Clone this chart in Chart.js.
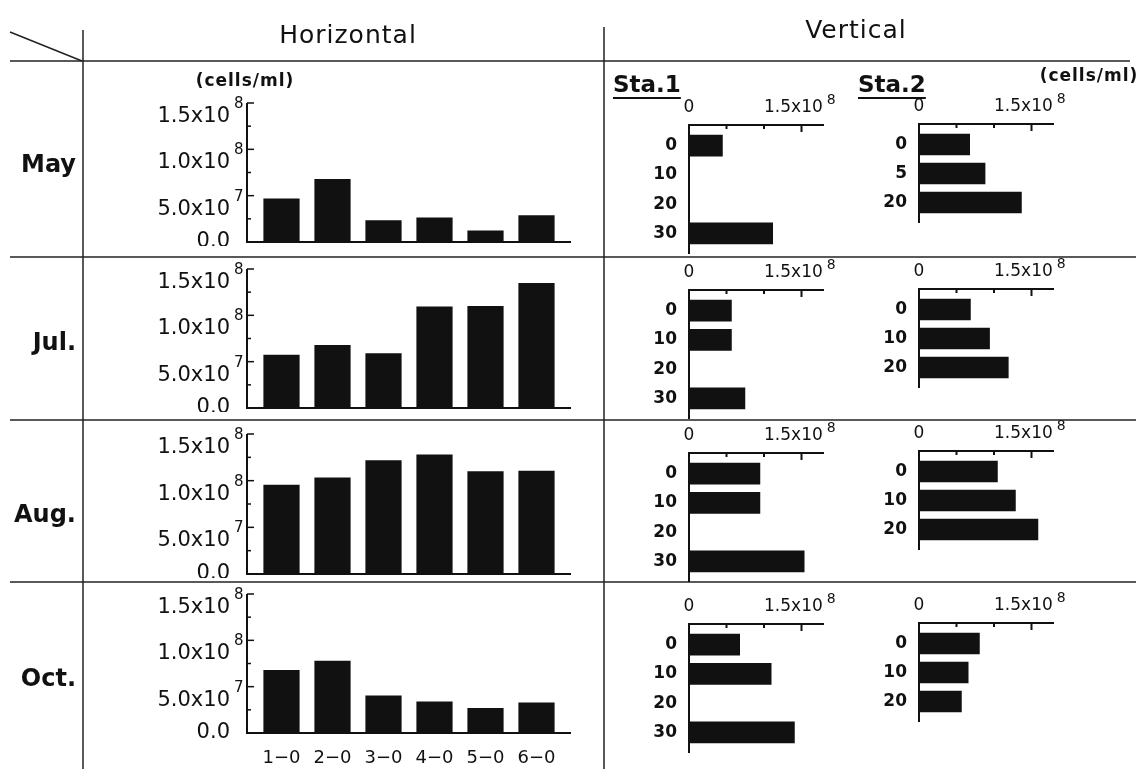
<!DOCTYPE html>
<html>
<head>
<meta charset="utf-8">
<script src="https://cdn.jsdelivr.net/npm/chart.js@4.4.1/dist/chart.umd.min.js"></script>
<style>
  body { margin: 0; background: #fff; width: 1139px; height: 769px; position: relative; overflow: hidden;
         font-family: "DejaVu Sans", sans-serif; color: #111; }
  canvas { position: absolute; }
  .t { position: absolute; white-space: nowrap; line-height: 1; }
  .c { transform: translate(-50%, -50%); }
  .r { transform: translate(-100%, -50%); }
  .m { font-size: 24px; font-weight: bold; }
  .u { font-size: 17px; font-weight: bold; letter-spacing: 1px; }
  .s { font-size: 23px; font-weight: bold; text-decoration: underline; text-decoration-thickness: 1.5px; text-underline-offset: 5px; }
</style>
</head>
<body>
<canvas id="grid" width="1139" height="769" style="left:0;top:0"></canvas>

<div class="t c" style="left:348px;top:34px;font-size:25px;letter-spacing:1px">Horizontal</div>
<div class="t c" style="left:856px;top:29px;font-size:25px;letter-spacing:1px">Vertical</div>

<div class="t r m" style="left:76px;top:164px">May</div>
<div class="t r m" style="left:76px;top:342px">Jul.</div>
<div class="t r m" style="left:76px;top:514px">Aug.</div>
<div class="t r m" style="left:76px;top:678px">Oct.</div>

<div class="t c u" style="left:245px;top:80px">(cells/ml)</div>
<div class="t c u" style="left:1089px;top:75px">(cells/ml)</div>

<div class="t s" style="left:613px;top:73px">Sta.1</div>
<div class="t s" style="left:858px;top:73px">Sta.2</div>

<canvas id="hMay"></canvas>
<canvas id="hJul"></canvas>
<canvas id="hAug"></canvas>
<canvas id="hOct"></canvas>
<canvas id="s1May"></canvas>
<canvas id="s1Jul"></canvas>
<canvas id="s1Aug"></canvas>
<canvas id="s1Oct"></canvas>
<canvas id="s2May"></canvas>
<canvas id="s2Jul"></canvas>
<canvas id="s2Aug"></canvas>
<canvas id="s2Oct"></canvas>

<script>
// horizontal distribution (stations 1-0 ... 6-0, surface)
const sites = ['1\u22120', '2\u22120', '3\u22120', '4\u22120', '5\u22120', '6\u22120'];
const horizMay = [4.7e7, 6.8e7, 2.35e7, 2.65e7, 1.25e7, 2.9e7];
const horizJul = [5.75e7, 6.8e7, 5.9e7, 1.095e8, 1.1e8, 1.35e8];
const horizAug = [9.55e7, 1.035e8, 1.22e8, 1.28e8, 1.1e8, 1.105e8];
const horizOct = [6.8e7, 7.8e7, 4.05e7, 3.4e7, 2.7e7, 3.3e7];

// vertical distribution (depth m)
const depth1 = ['0', '10', '20', '30'];
const depth2May = ['0', '5', '20'];
const depth2 = ['0', '10', '20'];
const sta1May = [4.5e7, null, null, 1.12e8];
const sta1Jul = [5.7e7, 5.7e7, null, 7.5e7];
const sta1Aug = [9.5e7, 9.5e7, null, 1.54e8];
const sta1Oct = [6.8e7, 1.1e8, null, 1.41e8];
const sta2May = [6.8e7, 8.85e7, 1.37e8];
const sta2Jul = [6.9e7, 9.45e7, 1.195e8];
const sta2Aug = [1.05e8, 1.29e8, 1.59e8];
const sta2Oct = [8.1e7, 6.6e7, 5.7e7];

const black = '#111';
const fontFam = '"DejaVu Sans", sans-serif';

// table rules
const g = document.getElementById('grid').getContext('2d');
g.strokeStyle = '#222';
g.lineWidth = 1.5;
function line(x1, y1, x2, y2) { g.beginPath(); g.moveTo(x1, y1); g.lineTo(x2, y2); g.stroke(); }
line(10, 32, 82, 61);
line(10, 61, 1130, 61);
line(10, 257, 1136, 257);
line(10, 420, 1136, 420);
line(10, 582, 1136, 582);
line(83, 30, 83, 769);
line(604, 27, 604, 769);

function expOf(v) { return Math.floor(Math.log10(v) + 1e-9); }
function mantissa(v) { return (v / Math.pow(10, expOf(v))).toFixed(1) + 'x10'; }

const leftAxes = {
  id: 'leftAxes',
  afterDraw(chart) {
    const { ctx, chartArea: a, scales: { y } } = chart;
    const ax = a.left - 9;
    ctx.save();
    ctx.strokeStyle = black;
    ctx.lineWidth = 2;
    ctx.beginPath();
    ctx.moveTo(ax, y.getPixelForValue(y.max));
    ctx.lineTo(ax, a.bottom);
    ctx.lineTo(a.right + 9, a.bottom);
    ctx.stroke();
    ctx.lineWidth = 1.5;
    ctx.fillStyle = black;
    ctx.font = '15px ' + fontFam;
    ctx.textBaseline = 'middle';
    ctx.textAlign = 'left';
    y.ticks.forEach(t => {
      const py = y.getPixelForValue(t.value);
      const major = t.value % 5e7 === 0;
      if (t.value > 0) {
        ctx.beginPath();
        ctx.moveTo(ax, py);
        ctx.lineTo(ax + (major ? 7 : 4), py);
        ctx.stroke();
      }
      if (major && t.value > 0) {
        ctx.fillText(String(expOf(t.value)), y.right - y.options.ticks.padding + 4, py + 1);
      }
    });
    ctx.restore();
  }
};

const rightAxes = {
  id: 'rightAxes',
  afterDraw(chart) {
    const { ctx, chartArea: a, scales: { x } } = chart;
    const ay = a.top - 6;
    ctx.save();
    ctx.strokeStyle = black;
    ctx.lineWidth = 2;
    ctx.beginPath();
    ctx.moveTo(a.left, a.bottom + 6);
    ctx.lineTo(a.left, ay);
    ctx.lineTo(a.right, ay);
    ctx.stroke();
    ctx.fillStyle = black;
    ctx.textBaseline = 'middle';
    ctx.textAlign = 'left';
    x.ticks.filter(t => t.value > 0).forEach(t => {
      const px = x.getPixelForValue(t.value);
      ctx.beginPath();
      ctx.moveTo(px, ay);
      ctx.lineTo(px, ay + (t.value === 1.5e8 ? 7 : 4));
      ctx.stroke();
      if (t.value === 1.5e8) {
        ctx.font = '17px ' + fontFam;
        const full = ctx.measureText(t.label).width;
        const main = ctx.measureText(mantissa(t.value)).width;
        ctx.font = '14px ' + fontFam;
        ctx.fillText(String(expOf(t.value)), px - full / 2 + main + 4, ay - 25);
      }
    });
    ctx.restore();
  }
};

function leftChart(id, values, top1, zero, showX) {
  const el = document.getElementById(id);
  const padTop = 16, xH = showX ? 34 : 4, w = 440;
  el.width = w;
  el.height = zero - top1 + padTop + xH;
  el.style.left = '140px';
  el.style.top = (top1 - padTop) + 'px';
  new Chart(el, {
    type: 'bar',
    data: {
      labels: sites,
      datasets: [{ data: values, backgroundColor: black, barPercentage: 0.71, categoryPercentage: 1 }]
    },
    options: {
      responsive: false,
      animation: false,
      layout: { padding: { top: padTop, right: 18, left: 0, bottom: 0 } },
      plugins: { legend: { display: false }, tooltip: { enabled: false } },
      scales: {
        x: {
          grid: { display: false, drawTicks: false },
          border: { display: false },
          ticks: { display: showX, color: black, padding: 15, font: { family: fontFam, size: 18 } },
          afterFit: s => { s.height = xH; s.paddingLeft = 0; s.paddingRight = 0; }
        },
        y: {
          min: 0, max: 1.5e8,
          grid: { display: false, drawTicks: false },
          border: { display: false },
          ticks: {
            stepSize: 2.5e7, autoSkip: false, padding: 26, color: black,
            font: { family: fontFam, size: 21, lineHeight: 1.3 },
            callback: v => v === 0 ? '0.0' : (v % 5e7 === 0 ? ['', mantissa(v)] : '')
          },
          afterFit: s => { s.width = 116; s.paddingTop = 0; s.paddingBottom = 0; }
        }
      }
    },
    plugins: [leftAxes]
  });
}

function rightChart(id, labels, values, zeroX, axisY) {
  const el = document.getElementById(id);
  const band = 29.3, ext = 6, xH = 46, yW = 49, w = 200, padB = 12;
  const plotW = 135;
  el.width = w;
  el.height = xH + labels.length * band + padB;
  el.style.left = (zeroX - yW) + 'px';
  el.style.top = (axisY + ext - xH) + 'px';
  new Chart(el, {
    type: 'bar',
    data: {
      labels: labels,
      datasets: [{ data: values, backgroundColor: black, barPercentage: 0.74, categoryPercentage: 1 }]
    },
    options: {
      indexAxis: 'y',
      responsive: false,
      animation: false,
      layout: { padding: { top: 0, right: w - yW - plotW, left: 0, bottom: padB } },
      plugins: { legend: { display: false }, tooltip: { enabled: false } },
      scales: {
        x: {
          position: 'top',
          min: 0, max: 1.8e8,
          afterBuildTicks: s => { s.ticks = [0, 5e7, 1e8, 1.5e8].map(v => ({ value: v })); },
          grid: { display: false, drawTicks: false },
          border: { display: false },
          ticks: {
            autoSkip: false, maxRotation: 0, padding: 13, color: black,
            callback: v => v === 0 ? '0' : (v === 1.5e8 ? mantissa(v) + '   ' : ''),
            font: { family: fontFam, size: 17 }
          },
          afterFit: s => { s.height = xH; s.paddingLeft = 0; s.paddingRight = 0; }
        },
        y: {
          grid: { display: false, drawTicks: false },
          border: { display: false },
          ticks: { padding: 12, color: black, font: { family: fontFam, size: 17, weight: 'bold' } },
          afterFit: s => { s.width = yW; s.paddingTop = 0; s.paddingBottom = 0; }
        }
      }
    },
    plugins: [rightAxes]
  });
}

leftChart('hMay', horizMay, 103, 242, false);
leftChart('hJul', horizJul, 269, 408, false);
leftChart('hAug', horizAug, 434, 574, false);
leftChart('hOct', horizOct, 594, 733, true);

rightChart('s1May', depth1, sta1May, 689, 125);
rightChart('s1Jul', depth1, sta1Jul, 689, 290);
rightChart('s1Aug', depth1, sta1Aug, 689, 453);
rightChart('s1Oct', depth1, sta1Oct, 689, 624);
rightChart('s2May', depth2May, sta2May, 919, 124);
rightChart('s2Jul', depth2, sta2Jul, 919, 289);
rightChart('s2Aug', depth2, sta2Aug, 919, 451);
rightChart('s2Oct', depth2, sta2Oct, 919, 623);
</script>
</body>
</html>
